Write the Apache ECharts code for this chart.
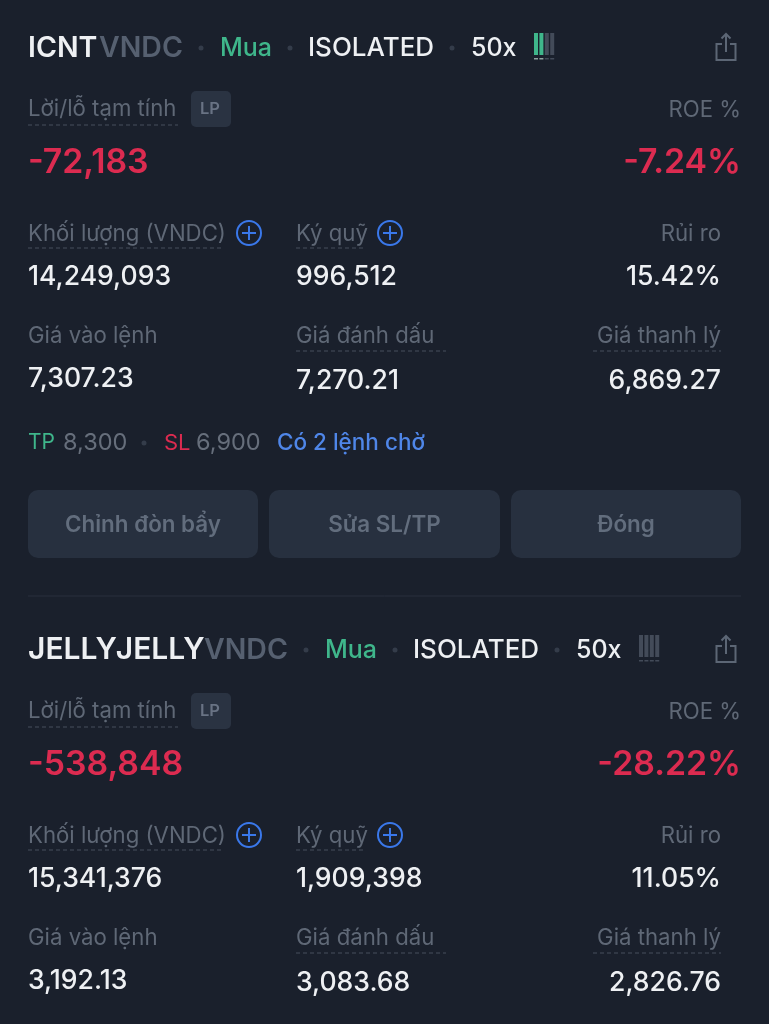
<!DOCTYPE html>
<html>
<head>
<meta charset="utf-8">
<script src="https://cdn.jsdelivr.net/npm/echarts@6/dist/echarts.min.js"></script>
<style>
  html, body { margin: 0; padding: 0; background: #1a202c; }
  #chart { width: 769px; height: 1024px; }
</style>
</head>
<body>
<div id="chart"></div>
<script>
// values, one entry per position card
const symbols = ['ICNT', 'JELLYJELLY'];
const quote = 'VNDC';
const sides = ['Mua', 'Mua'];
const marginModes = ['ISOLATED', 'ISOLATED'];
const leverages = ['50x', '50x'];
const gaugeFilled = [2, 0];
const pnl = ['-72,183', '-538,848'];
const roe = ['-7.24%', '-28.22%'];
const volumes = ['14,249,093', '15,341,376'];
const margins = ['996,512', '1,909,398'];
const risks = ['15.42%', '11.05%'];
const entryPrices = ['7,307.23', '3,192.13'];
const markPrices = ['7,270.21', '3,083.68'];
const liqPrices = ['6,869.27', '2,826.76'];
const buttonLabels = ['Chỉnh đòn bẩy', 'Sửa SL/TP', 'Đóng'];

const BG = '#1a202c', WHITE = '#eef0f3', GREY = '#5f6876', DIM = '#566070';
const GREEN = '#3fb68b', RED = '#dc2b50', BLUE = '#3a78ea';
const FONT = 'Inter, "Noto Sans", sans-serif';
const CARD_STEP = 602;
const LABEL = 22.2, VALUE = 26.6, BIG = 33.8;

const els = [];

function text(x, y, str, size, fill, opt = {}) {
    els.push({
        type: 'text', x, y,
        style: { text: str, fontSize: size, fontFamily: FONT, fontWeight: opt.weight || 400, fill,
            align: opt.align || 'left', verticalAlign: 'middle' }
    });
}
function dash(x1, x2, y) {
    els.push({ type: 'line', shape: { x1, y1: y, x2, y2: y },
        style: { stroke: '#464e5c', lineWidth: 1, lineDash: [4, 3] } });
}
function dot(x, y) {
    els.push({ type: 'circle', shape: { cx: x, cy: y, r: 2.5 }, style: { fill: '#343c4a' } });
}
function plusIcon(cx, cy) {
    els.push({ type: 'circle', shape: { cx, cy, r: 12 }, style: { fill: 'none', stroke: BLUE, lineWidth: 2 } });
    els.push({ type: 'line', shape: { x1: cx - 7, y1: cy, x2: cx + 7, y2: cy }, style: { stroke: BLUE, lineWidth: 2 } });
    els.push({ type: 'line', shape: { x1: cx, y1: cy - 7, x2: cx, y2: cy + 7 }, style: { stroke: BLUE, lineWidth: 2 } });
}
function shareIcon(cx, y) {
    const stroke = { fill: 'none', stroke: '#5c6675', lineWidth: 2 };
    els.push({ type: 'polyline', shape: { points: [[cx - 4, y + 11], [cx - 9.5, y + 11], [cx - 9.5, y + 27], [cx + 9.5, y + 27], [cx + 9.5, y + 11], [cx + 4, y + 11]] }, style: stroke });
    els.push({ type: 'line', shape: { x1: cx, y1: y + 1, x2: cx, y2: y + 19 }, style: stroke });
    els.push({ type: 'polyline', shape: { points: [[cx - 4.5, y + 5.5], [cx, y + 1], [cx + 4.5, y + 5.5]] }, style: stroke });
}
function gauge(x, y, filled) {
    for (let i = 0; i < 4; i++) {
        const on = i < filled;
        els.push({ type: 'rect', shape: { x: x + i * 5.4, y, width: 4, height: 22 },
            style: { fill: on ? GREEN : '#434b59' } });
        els.push({ type: 'rect', shape: { x: x + i * 5.4, y: y + 25, width: 4, height: 1.5 },
            style: { fill: on ? '#8fa3a0' : '#434b59' } });
    }
}

function drawCard(i, xs) {
    const o = i * CARD_STEP;

    // header row
    text(28, 48 + o, symbols[i], xs.symSize, WHITE, { weight: 600 });
    text(xs.quote, 48 + o, quote, 28.5, DIM, { weight: 600 });
    dot(xs.dot1, 48 + o);
    text(xs.side, 48 + o, sides[i], 25, GREEN, { weight: 500 });
    dot(xs.dot2, 48 + o);
    text(xs.mode, 48 + o, marginModes[i], 26, WHITE, { weight: 500 });
    dot(xs.dot3, 48 + o);
    text(xs.lev, 48 + o, leverages[i], 25, WHITE, { weight: 500 });
    gauge(xs.gauge, 33 + o, gaugeFilled[i]);
    shareIcon(726, 33 + o);

    // pnl / roe
    text(28, 109 + o, 'Lời/lỗ tạm tính', LABEL, GREY);
    dash(28, 178, 125 + o);
    els.push({ type: 'rect', shape: { x: 191, y: 91 + o, width: 40, height: 36, r: 5 }, style: { fill: '#2a3342' } });
    text(210, 109 + o, 'LP', 16.5, '#697384', { align: 'center', weight: 600 });
    text(741, 110 + o, 'ROE %', LABEL, GREY, { align: 'right' });
    text(28, 163 + o, pnl[i], BIG, RED, { weight: 600 });
    text(741, 163 + o, roe[i], BIG, RED, { weight: 600, align: 'right' });

    // volume / margin / risk
    text(28, 234 + o, 'Khối lượng (VNDC)', LABEL, GREY);
    dash(28, 224, 248 + o);
    plusIcon(249, 233 + o);
    text(296, 234 + o, 'Ký quỹ', LABEL, GREY);
    dash(296, 366, 248 + o);
    plusIcon(390, 233 + o);
    text(721, 234 + o, 'Rủi ro', LABEL, GREY, { align: 'right' });
    text(28, 277 + o, volumes[i], VALUE, WHITE, { weight: 500 });
    text(296, 277 + o, margins[i], VALUE, WHITE, { weight: 500 });
    text(721, 277 + o, risks[i], VALUE, WHITE, { weight: 500, align: 'right' });

    // prices
    text(28, 336 + o, 'Giá vào lệnh', LABEL, GREY);
    text(296, 336 + o, 'Giá đánh dấu', LABEL, GREY);
    dash(296, 446, 351 + o);
    text(721, 336 + o, 'Giá thanh lý', LABEL, GREY, { align: 'right' });
    dash(593, 721, 351 + o);
    text(28, 379 + o, entryPrices[i], VALUE, WHITE, { weight: 500 });
    text(296, 381 + o, markPrices[i], VALUE, WHITE, { weight: 500 });
    text(721, 381 + o, liqPrices[i], VALUE, WHITE, { weight: 500, align: 'right' });
}

drawCard(0, { symSize: 28.5, quote: 99, dot1: 201, side: 220, dot2: 290, mode: 308, dot3: 452, lev: 471, gauge: 534 });
drawCard(1, { symSize: 30, quote: 204, dot1: 306, side: 325, dot2: 395, mode: 413, dot3: 557, lev: 576, gauge: 639 });

// TP/SL row only exists on the first card
text(28, 443, 'TP', 21, GREEN);
text(63, 443, '8,300', 23.5, '#666e7b');
dot(144, 443);
text(164, 443, 'SL', 22, RED);
text(196, 443, '6,900', 23.5, '#666e7b');
text(277, 443, 'Có 2 lệnh chờ', 22.5, '#4f86e8', { weight: 500 });

// action buttons
[[28, 230], [269, 231], [511, 230]].forEach(([x, w], k) => {
    els.push({ type: 'rect', shape: { x, y: 490, width: w, height: 68, r: 10 }, style: { fill: '#27303f' } });
    text(x + w / 2, 525, buttonLabels[k], 22.4, '#626d7d', { align: 'center', weight: 600 });
});

// divider between cards
els.push({ type: 'line', shape: { x1: 28, y1: 596, x2: 741, y2: 596 }, style: { stroke: '#282f3c', lineWidth: 1 } });

const chart = echarts.init(document.getElementById('chart'));
chart.setOption({
    backgroundColor: BG,
    animation: false,
    graphic: { elements: els }
});
</script>
</body>
</html>
